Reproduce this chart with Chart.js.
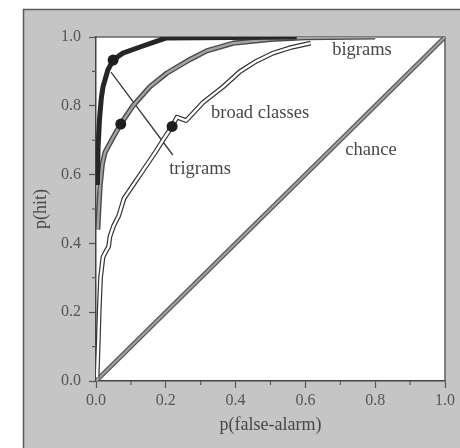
<!DOCTYPE html>
<html><head><meta charset="utf-8">
<script src="https://cdn.jsdelivr.net/npm/chart.js@4"></script>
<style>html,body{margin:0;padding:0;background:#fff}#wrap{width:460px;height:448px}</style>
</head><body><div id="wrap"><canvas id="c" width="460" height="448"></canvas></div>
<script>
// ---- data ----
const trigramsX = [0.004, 0.006, 0.010, 0.015, 0.020, 0.034, 0.049, 0.077, 0.126, 0.200, 0.575];
const trigramsY = [0.570, 0.680, 0.760, 0.820, 0.855, 0.904, 0.933, 0.953, 0.971, 0.997, 1.000];

const bigramsX = [0.005, 0.008, 0.012, 0.018, 0.026, 0.050, 0.071, 0.106, 0.155, 0.203, 0.270, 0.318, 0.393, 0.500, 0.600, 0.800];
const bigramsY = [0.440, 0.500, 0.570, 0.630, 0.665, 0.710, 0.747, 0.800, 0.856, 0.895, 0.935, 0.960, 0.982, 0.993, 0.998, 1.000];

const broadX = [0.003, 0.006, 0.009, 0.013, 0.020, 0.030, 0.036, 0.040, 0.050, 0.065, 0.080, 0.110, 0.140, 0.170, 0.195, 0.218, 0.232, 0.258, 0.275, 0.307, 0.364, 0.413, 0.460, 0.507, 0.560, 0.615];
const broadY = [0.010, 0.100, 0.200, 0.300, 0.360, 0.380, 0.390, 0.420, 0.450, 0.480, 0.530, 0.575, 0.620, 0.665, 0.705, 0.740, 0.767, 0.757, 0.775, 0.810, 0.855, 0.900, 0.930, 0.953, 0.970, 0.982];

const chanceX = [0, 1];
const chanceY = [0, 1];

// operating points (dots) on trigrams, bigrams, broad classes
const opX = [0.049, 0.071, 0.218];
const opY = [0.933, 0.747, 0.740];

// leader line from the trigrams label to its curve
const leaderX = [0.043, 0.220];
const leaderY = [0.898, 0.657];

const xTicks = [0, 0.2, 0.4, 0.6, 0.8, 1.0];
const yTicks = [0, 0.2, 0.4, 0.6, 0.8, 1.0];
const xTitle = 'p(false-alarm)';
const yTitle = 'p(hit)';

const labelText = ['bigrams', 'broad classes', 'trigrams', 'chance'];
const labelX = [0.762, 0.470, 0.298, 0.788];
const labelY = [0.962, 0.779, 0.616, 0.672];

// ---- build ----
const pts = (xs, ys) => xs.map((x, i) => ({x, y: ys[i]}));
const SERIF = '"Liberation Serif", "DejaVu Serif", serif';

const line = (data, color, width, extra) => Object.assign({
  data, showLine: true, borderColor: color, borderWidth: width,
  pointRadius: 0, pointHoverRadius: 0, fill: false, tension: 0,
  borderJoinStyle: 'round', borderCapStyle: 'butt'
}, extra || {});

const datasets = [
  {data: pts(opX, opY), showLine: false, pointRadius: 5.5, pointBackgroundColor: '#1e1e1e', pointBorderWidth: 0},
  line(pts(trigramsX, trigramsY), '#262626', 5),
  line(pts(bigramsX, bigramsY), '#a3a3a3', 2.4),
  line(pts(bigramsX, bigramsY), '#4a4a4a', 5.2),
  line(pts(broadX, broadY), '#ffffff', 2.4),
  line(pts(broadX, broadY), '#333333', 4.8),
  line(pts(chanceX, chanceY), '#a0a0a0', 2.2),
  line(pts(chanceX, chanceY), '#555555', 4.6),
  line(pts(leaderX, leaderY), '#3a3a3a', 1.3)
];

const decor = {
  id: 'decor',
  beforeDraw(chart) {
    const {ctx, chartArea: a, width, height} = chart;
    ctx.save();
    ctx.fillStyle = '#ffffff';
    ctx.fillRect(0, 0, width, height);
    ctx.fillStyle = '#c5c5c5';
    ctx.fillRect(23, 9, width - 23, height - 9);
    ctx.strokeStyle = '#5a5a5a';
    ctx.lineWidth = 1.5;
    ctx.beginPath();
    ctx.moveTo(23.5, height); ctx.lineTo(23.5, 9.5); ctx.lineTo(width, 9.5);
    ctx.stroke();
    ctx.fillStyle = '#ffffff';
    ctx.fillRect(a.left, a.top, a.right - a.left, a.bottom - a.top);
    ctx.strokeStyle = '#666';
    ctx.lineWidth = 1.6;
    ctx.beginPath();
    ctx.moveTo(a.left, a.top); ctx.lineTo(a.right, a.top); ctx.lineTo(a.right, a.bottom);
    ctx.stroke();
    ctx.restore();
  },
  afterDraw(chart) {
    const {ctx, chartArea: a, scales: {x, y}} = chart;
    ctx.save();
    // minor ticks
    ctx.strokeStyle = '#555';
    ctx.lineWidth = 1.1;
    ctx.beginPath();
    for (let k = 1; k < 10; k += 2) {
      const px = x.getPixelForValue(k / 10);
      ctx.moveTo(px, a.bottom); ctx.lineTo(px, a.bottom + 4);
      const py = y.getPixelForValue(k / 10);
      ctx.moveTo(a.left, py); ctx.lineTo(a.left - 4, py);
    }
    ctx.stroke();
    // labels
    ctx.fillStyle = '#474747';
    ctx.font = '18.5px ' + SERIF;
    ctx.textAlign = 'center';
    ctx.textBaseline = 'middle';
    labelText.forEach((t, i) => {
      ctx.fillText(t, x.getPixelForValue(labelX[i]), y.getPixelForValue(labelY[i]));
    });
    ctx.restore();
  }
};

const axis = (ticksList, title, titlePad, fit) => ({
  type: 'linear', min: 0, max: 1,
  afterFit: fit,
  afterBuildTicks: s => { s.ticks = ticksList.map(v => ({value: v})); },
  ticks: {
    autoSkip: false, maxRotation: 0, color: '#555',
    font: {family: SERIF, size: 16},
    callback: v => Number(v).toFixed(1)
  },
  grid: {drawOnChartArea: false, tickLength: 7, tickColor: '#555', tickWidth: 1.2},
  border: {display: true, color: '#444', width: 1.5},
  title: {display: true, text: title, color: '#474747', font: {family: SERIF, size: 18}, padding: titlePad}
});

const xs = axis(xTicks, xTitle, {top: 0, bottom: 12}, s => { s.height = 67; });
xs.ticks.padding = 3;
const ys = axis(yTicks, yTitle, {top: 30, bottom: 0}, s => { s.width = 96; });
ys.ticks.padding = 8;

new Chart(document.getElementById('c'), {
  type: 'scatter',
  data: {datasets},
  options: {
    responsive: false, devicePixelRatio: 1, animation: false,
    layout: {padding: {left: 0, top: 37, right: 15, bottom: 0}},
    plugins: {legend: {display: false}, tooltip: {enabled: false}},
    scales: {x: xs, y: ys}
  },
  plugins: [decor]
});
</script></body></html>
